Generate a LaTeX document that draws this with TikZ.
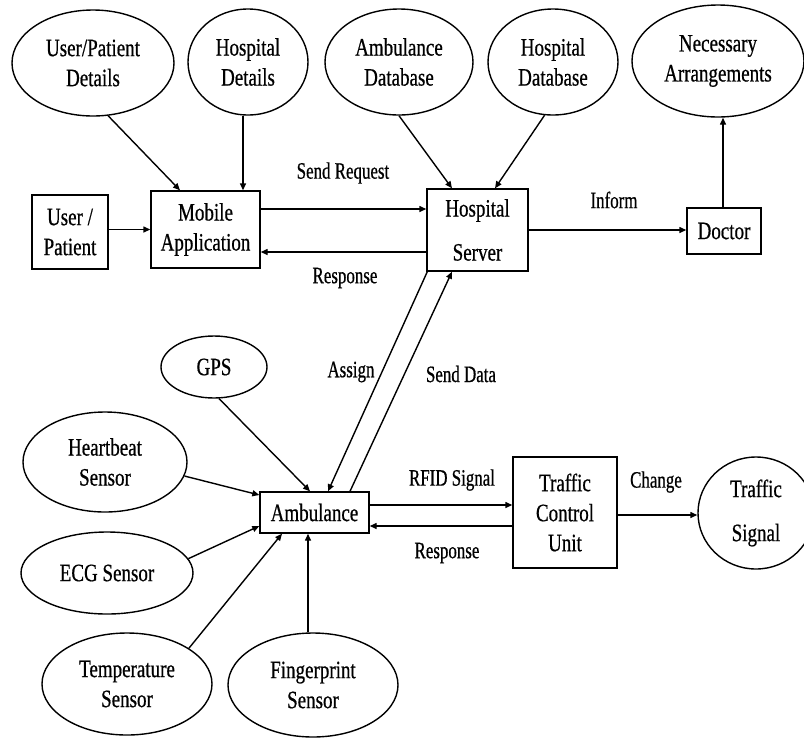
\documentclass[tikz,border=0pt]{standalone}
\usepackage{fontspec}
\setmainfont{Liberation Serif}[FakeStretch=0.76,FakeBold=0.6]
\newfontfamily\lblfont{Liberation Serif}[FakeStretch=0.72,FakeBold=0.6]
\usetikzlibrary{arrows.meta,shapes.geometric}
\begin{document}
\begin{tikzpicture}[x=1pt,y=-1pt,
  line width=1.4pt,
  txt/.style={font=\fontsize{25}{30}\selectfont, align=center, inner sep=0pt},
  box/.style={txt, draw, rectangle},
  oval/.style={txt, draw, ellipse},
  lbl/.style={font=\lblfont\fontsize{23.5}{28}\selectfont, inner sep=0pt},
  arr/.style={-{Triangle[length=7pt,width=6pt]}}]
\clip (0,0) rectangle (804,740);

% data sources and targets (top row)
\node[oval, minimum width=162pt, minimum height=106pt] (upd) at (93,63) {User/Patient\\Details};
\node[oval, minimum width=120pt, minimum height=106pt] (hd) at (248,62) {Hospital\\Details};
\node[oval, minimum width=148pt, minimum height=106pt] (adb) at (399,62) {Ambulance\\Database};
\node[oval, minimum width=130pt, minimum height=106pt] (hdb) at (553,62) {Hospital\\Database};
\node[oval, minimum width=172pt, minimum height=112pt] (na) at (718,61) {Necessary\\Arrangements};

% main row of boxes
\node[box, minimum width=76pt, minimum height=74pt] (up) at (70,232) {User /\\Patient};
\node[box, minimum width=109pt, minimum height=77pt] (ma) at (205.5,229.5) {Mobile\\Application};
\node[box, minimum width=101pt, minimum height=82pt] (hs) at (477.5,230) {Hospital\\[14pt]Server};
\node[box, minimum width=74pt, minimum height=46pt] (doc) at (724,231) {Doctor};

% ambulance and its sensors
\node[oval, minimum width=106pt, minimum height=62pt] (gps) at (214,367) {GPS};
\node[oval, minimum width=164pt, minimum height=100pt] (hb) at (105,462) {Heartbeat\\Sensor};
\node[oval, minimum width=172pt, minimum height=82pt] (ecg) at (107,573) {ECG Sensor};
\node[oval, minimum width=170pt, minimum height=102pt] (temp) at (127,684) {Temperature\\Sensor};
\node[oval, minimum width=170pt, minimum height=104pt] (fp) at (313,685) {Fingerprint\\Sensor};
\node[box, minimum width=109pt, minimum height=41pt] (amb) at (314.5,512.5) {Ambulance};
\node[box, minimum width=104pt, minimum height=111pt] (tcu) at (565,512.5) {Traffic\\Control\\Unit};
\node[oval, minimum width=116pt, minimum height=112pt] (ts) at (756,513) {Traffic\\[14pt]Signal};

% connectors, top part
\draw[arr] (upd.-74) -- ([xshift=-25.5pt]ma.north);
\draw[arr] ([xshift=-5pt]hd.south) -- ([xshift=-5pt]hd.south |- ma.north);
\draw[arr] (ma.west -| up.east) -- (ma.west);
\draw[arr] ([yshift=20.5pt]ma.east) coordinate (sr) -- (sr -| hs.west);
\coordinate (rs) at ([yshift=-22.5pt]ma.east);
\draw[arr] (rs -| hs.west) -- (rs);
\draw[arr] (adb.south) -- ([xshift=-25.5pt]hs.north);
\draw[arr] (hdb.-99) -- ([xshift=17.5pt]hs.north);
\draw[arr] (hs.east) -- (hs.east -| doc.west);
\draw[arr] ([xshift=-1pt]doc.north) -- ([xshift=-1pt]doc.north |- na.south);

% server <-> ambulance
\draw[arr] ([xshift=1pt]hs.south west) -- ([xshift=13.5pt]amb.north);
\draw[arr] ([xshift=35.5pt]amb.north) -- ([xshift=-25.5pt]hs.south);

% ambulance <-> traffic control
\draw[arr] ([yshift=7.5pt]amb.east) coordinate (rf) -- (rf -| tcu.west);
\coordinate (rb) at ([yshift=-13.5pt]amb.east);
\draw[arr] (rb -| tcu.west) -- (rb);
\draw[arr] ([yshift=-2.5pt]tcu.east) coordinate (ch) -- (ch -| ts.west);

% sensors to ambulance
\draw[arr] (gps.-81) -- ([xshift=-4.5pt]amb.north);
\draw[arr] (hb.-10) -- ([yshift=17.5pt]amb.west);
\draw[arr] (ecg.10) -- ([yshift=-13.5pt]amb.west);
\draw[arr] (temp.30) -- ([xshift=-32.5pt]amb.south);
\draw[arr] ([xshift=-5pt]fp.north) -- ([xshift=-5pt]fp.north |- amb.south);

% connector labels
\node[lbl] (lsr) at (343,173) {Send Request};
\node[lbl] (lrs) at (345,278) {Response};
\node[lbl] (linf) at (614,200) {Inform};
\node[lbl] (las) at (351,372) {Assign};
\node[lbl] (lsd) at (461,374) {Send Data};
\node[lbl] (lrf) at (452,480) {RFID Signal};
\node[lbl] (lrb) at (447,553) {Response};
\node[lbl] (lch) at (656,482) {Change};
\end{tikzpicture}
\end{document}
